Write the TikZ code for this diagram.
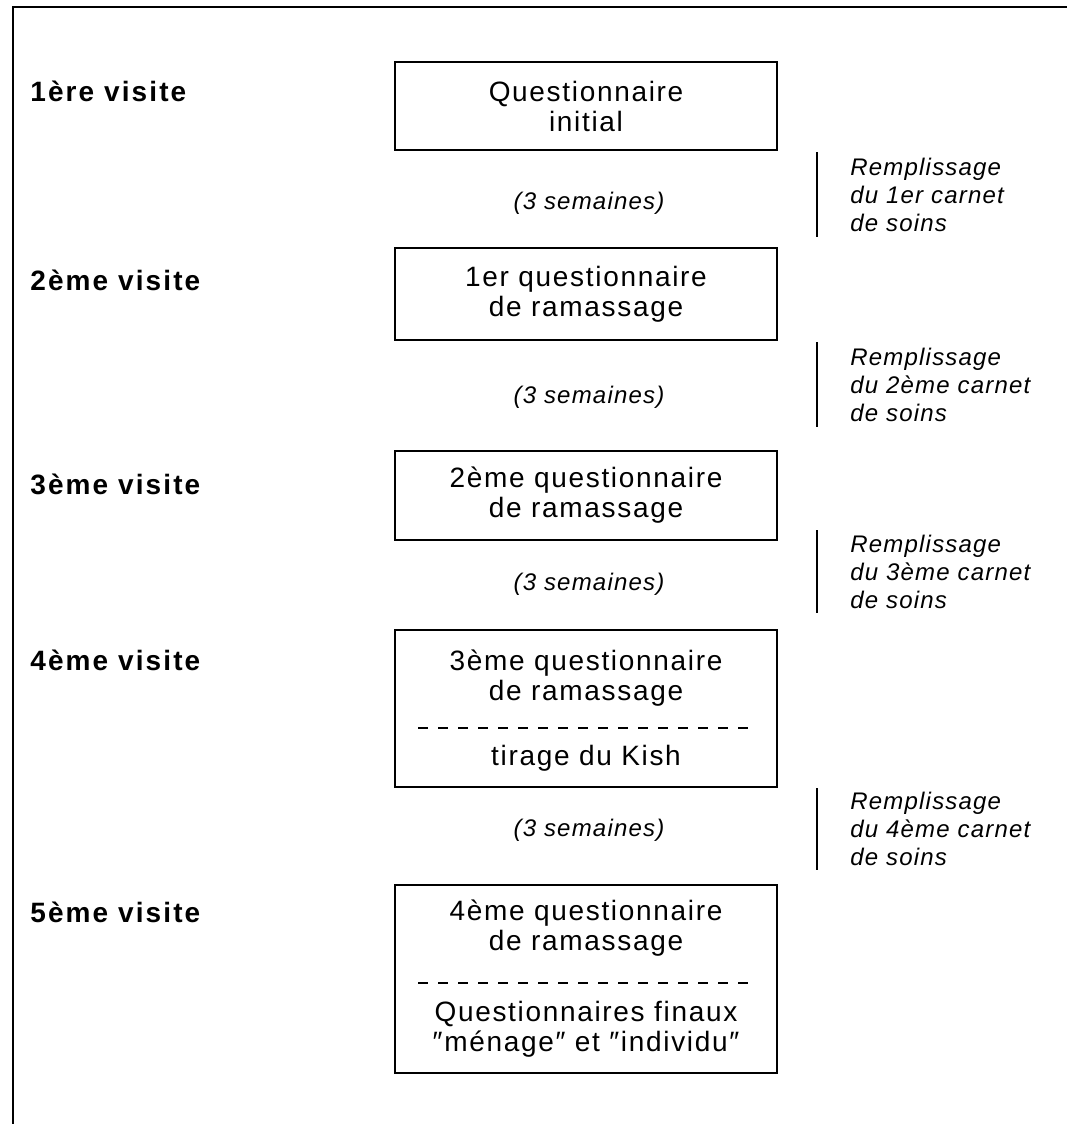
\documentclass[tikz,border=0pt]{standalone}
\usepackage{fontspec}
\setmainfont{Liberation Sans}
\newcommand\qfont{\fontsize{14}{15}\selectfont\addfontfeature{LetterSpace=6}}
\newcommand\vfont{\fontsize{14}{15}\selectfont\bfseries\addfontfeature{LetterSpace=7.5}}
\newcommand\dfont{\fontsize{12}{14}\selectfont\itshape\addfontfeature{LetterSpace=5}}
\tikzset{
  qbox/.style={draw, line width=1pt, minimum width=191pt, align=center, inner sep=0pt, font=\qfont},
  qtext/.style={align=center, inner sep=0pt, font=\qfont},
  visite/.style={anchor=west, inner sep=0pt, font=\vfont},
  duree/.style={inner sep=0pt, font=\dfont},
  remp/.style={anchor=west, align=left, inner sep=0pt, font=\dfont},
  bar/.style={line width=1pt},
  sep/.style={line width=0.8pt, dash pattern=on 5pt off 5pt},
}
\begin{document}
\begin{tikzpicture}[x=0.5pt,y=-0.5pt]
\useasboundingbox (0,0) rectangle (1067,1124);
% cadre
\draw[line width=1.1pt] (13,1124) -- (13,7) -- (1067,7);

% visites
\node[visite] (v1) at (30,91) {1ère visite};
\node[visite] (v2) at (30,280) {2ème visite};
\node[visite] (v3) at (30,484) {3ème visite};
\node[visite] (v4) at (30,660) {4ème visite};
\node[visite] (v5) at (30,912) {5ème visite};

% questionnaires
\node[qbox, minimum height=44pt] (q1) at (586,106) {Questionnaire\\initial};
\node[qbox, minimum height=46pt] (q2) at (586,294) {1er questionnaire\\de ramassage};
\node[qbox, minimum height=44.5pt] (q3) at (586,495) {2ème questionnaire\\de ramassage};
\node[qbox, minimum height=78.5pt] (q4) at (586,708.5) {};
\node[qtext] (q4a) at (586,678) {3ème questionnaire\\de ramassage};
\node[qtext] (q4b) at (586,758) {tirage du Kish};
\draw[sep] (418,728) -- (757,728);
\node[qbox, minimum height=94pt] (q5) at (586,979) {};
\node[qtext] (q5a) at (586,928) {4ème questionnaire\\de ramassage};
\node[qtext] (q5b) at (586,1029) {Questionnaires finaux\\″ménage″ et ″individu″};
\draw[sep] (418,983) -- (757,983);

% durees
\node[duree] (d1) at (589,203) {(3 semaines)};
\node[duree] (d2) at (589,397) {(3 semaines)};
\node[duree] (d3) at (589,584) {(3 semaines)};
\node[duree] (d4) at (589,830) {(3 semaines)};

% carnets
\draw[bar] (817,152) -- (817,237);
\node[remp] (r1) at (850,195) {Remplissage\\du 1er carnet\\de soins};
\draw[bar] (817,342) -- (817,427);
\node[remp] (r2) at (850,385) {Remplissage\\du 2ème carnet\\de soins};
\draw[bar] (817,530) -- (817,613);
\node[remp] (r3) at (850,572) {Remplissage\\du 3ème carnet\\de soins};
\draw[bar] (817,788) -- (817,870);
\node[remp] (r4) at (850,829) {Remplissage\\du 4ème carnet\\de soins};
\end{tikzpicture}
\end{document}
